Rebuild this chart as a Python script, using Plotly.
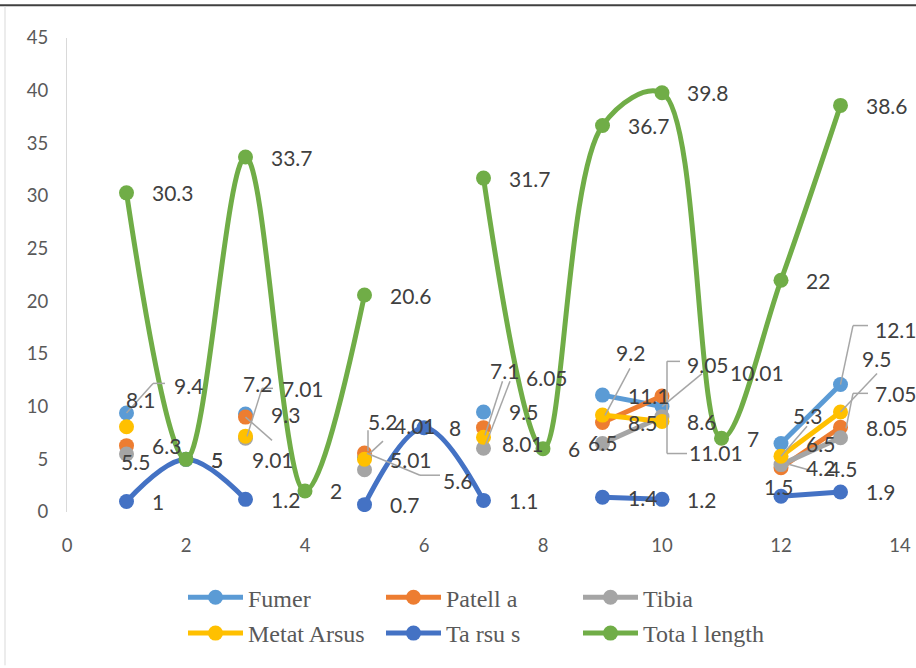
import plotly.graph_objects as go

# ---- data -------------------------------------------------------------
x_vals = list(range(1, 14))
series_names = ["Fumer", "Patell a", "Tibia", "Metat Arsus", "Ta rsu s", "Tota l length"]
fumer = [9.4, None, 9.3, None, 5.2, None, 9.5, None, 11.1, 10.01, None, 6.5, 12.1]
patella = [6.3, None, 9.01, None, 5.6, None, 8.01, None, 8.5, 11.01, None, 4.2, 8.05]
tibia = [5.5, None, 7.01, None, 4.01, None, 6.05, None, 6.5, 9.05, None, 4.5, 7.05]
metatarsus = [8.1, None, 7.2, None, 5.01, None, 7.1, None, 9.2, 8.6, None, 5.3, 9.5]
tarsus = [1, 5, 1.2, None, 0.7, 8, 1.1, None, 1.4, 1.2, None, 1.5, 1.9]
total_length = [30.3, 5, 33.7, 2, 20.6, None, 31.7, 6, 36.7, 39.8, 7, 22, 38.6]

x_ticks = [0, 2, 4, 6, 8, 10, 12, 14]
y_ticks = [0, 5, 10, 15, 20, 25, 30, 35, 40, 45]

series_values = [fumer, patella, tibia, metatarsus, tarsus, total_length]
colors = ["#5B9BD5", "#ED7D31", "#A5A5A5", "#FFC000", "#4472C4", "#70AD47"]

# ---- label placement (pixel offsets from the point, +dy = down) -------
# points not listed here get the default "right of point" label
label_moves = {
    "Fumer": {1: (61.5, -27.6), 5: (17.5, -35.5), 10: (95, -34), 13: (55.5, -55.5)},
    "Patell a": {3: (27, 42.8), 5: (92.5, 27.2), 7: (39, 15.7), 10: (54, 56.5)},
    "Tibia": {1: (8.5, 7.7), 3: (57.5, -49.8), 5: (50, -44.1), 7: (63.5, -71),
              9: (0, -1), 10: (46, -51.8), 12: (61, 4), 13: (55.5, -44)},
    "Metat Arsus": {1: (13.5, -27.3), 3: (12, -52.3), 7: (20.5, -67), 9: (27.5, -62.2),
                    12: (26.5, -41), 13: (35.5, -53)},
    "Ta rsu s": {12: (-3, -9.6)},
}

# leader lines: polyline vertices as pixel offsets from the point (+dy = down)
leaders = {
    ("Fumer", 1): [(38.5, -29.6), (26.5, -29.6), (0, 0)],
    ("Fumer", 5): [(3.5, -27), (3.5, -6)],
    ("Fumer", 10): [(0, 0), (40, -33)],
    ("Fumer", 13): [(27.5, -59), (12.5, -59), (0, 0)],
    ("Patell a", 3): [(0, 0), (26.5, 23.3)],
    ("Patell a", 5): [(75.5, 22.2), (55.5, 22.2), (2.5, 0.2)],
    ("Patell a", 10): [(25, 57.5), (5, 57.5), (5, 0)],
    ("Patell a", 12): [(4, -4.6), (29, 2.4)],
    ("Tibia", 3): [(27.5, -49.8), (16.5, -49.8), (1.5, -1.8)],
    ("Tibia", 5): [(18.5, -28.6), (5.5, -16.6)],
    ("Tibia", 7): [(26.5, -67), (1.5, -2)],
    ("Tibia", 10): [(18, -55.3), (5, -55.3), (5, 0)],
    ("Tibia", 13): [(27.5, -44.4), (12.5, -44.4), (5.5, -9.4)],
    ("Metat Arsus", 7): [(19, -56), (1.5, -2)],
    ("Metat Arsus", 9): [(27.5, -46.7), (2.5, 0.3)],
    ("Metat Arsus", 12): [(0, 0), (26, -30)],
    ("Metat Arsus", 13): [(36.5, -38.5), (0, 0)],
}

# legend entry positions (pixels in the 916x668 page)
legend_pos = [(183, 600), (381, 600), (578, 600), (183, 636), (381, 636), (578, 636)]

# ---- geometry --------------------------------------------------------
W, H = 916, 668
M_L, M_R, M_T, M_B = 67, 16, 38, 154
PW, PH = W - M_L - M_R, H - M_T - M_B


def paper_x(px):
    return (px - M_L) / PW


def paper_y(py):
    return (H - M_B - py) / PH


LABEL_FONT = dict(family="Lato, 'Open Sans', sans-serif", size=21, color="#404040")
TICK_FONT = dict(family="Lato, 'Open Sans', sans-serif", size=18.5, color="#595959")
LEGEND_FONT = dict(family="'Liberation Serif', 'DejaVu Serif', serif", size=24, color="#595959")

fig = go.Figure()

for i, (name, vals, col) in enumerate(zip(series_names, series_values, colors)):
    leg = "legend" if i == 0 else f"legend{i + 1}"
    fig.add_trace(go.Scatter(
        x=x_vals, y=vals, name=name, mode="lines+markers",
        line=dict(color=col, width=5, shape="spline", smoothing=1),
        marker=dict(color=col, size=15),
        connectgaps=False, legend=leg, hoverinfo="x+y+name",
    ))

annotations = []
shapes = []
for name, vals in zip(series_names, series_values):
    moves = label_moves.get(name, {})
    for xv, yv in zip(x_vals, vals):
        if yv is None:
            continue
        txt = f"{yv:g}"
        if xv in moves:
            dx, dy = moves[xv]
            annotations.append(dict(x=xv, y=yv, xref="x", yref="y", text=txt,
                                    showarrow=False, xanchor="center", yanchor="middle",
                                    xshift=dx, yshift=-dy, font=LABEL_FONT))
        else:
            annotations.append(dict(x=xv, y=yv, xref="x", yref="y", text=txt,
                                    showarrow=False, xanchor="left", yanchor="middle",
                                    xshift=23, yshift=0, font=LABEL_FONT))
        pts = leaders.get((name, xv))
        if pts:
            for (ax0, ay0), (ax1, ay1) in zip(pts[:-1], pts[1:]):
                shapes.append(dict(type="line", xref="x", yref="y",
                                   xsizemode="pixel", ysizemode="pixel",
                                   xanchor=xv, yanchor=yv,
                                   x0=ax0, x1=ax1, y0=-ay0, y1=-ay1,
                                   line=dict(color="#A6A6A6", width=1.5),
                                   layer="above"))

# chart frame edges
shapes.append(dict(type="line", xref="paper", yref="paper",
                   x0=paper_x(0), x1=paper_x(W), y0=paper_y(5), y1=paper_y(5),
                   line=dict(color="#404040", width=2)))
shapes.append(dict(type="line", xref="paper", yref="paper",
                   x0=paper_x(5), x1=paper_x(5), y0=paper_y(6), y1=paper_y(H),
                   line=dict(color="#D9D9D9", width=1)))

layout_legends = {}
for i, (lx, ly) in enumerate(legend_pos):
    key = "legend" if i == 0 else f"legend{i + 1}"
    layout_legends[key] = dict(
        x=paper_x(lx), y=paper_y(ly), xanchor="left", yanchor="middle",
        orientation="h", font=LEGEND_FONT, bgcolor="rgba(0,0,0,0)",
        borderwidth=0, itemwidth=55, tracegroupgap=0,
    )

fig.update_layout(
    width=W, height=H, autosize=False,
    margin=dict(l=M_L, r=M_R, t=M_T, b=M_B, pad=0),
    paper_bgcolor="white", plot_bgcolor="white",
    showlegend=True,
    annotations=annotations, shapes=shapes,
    xaxis=dict(range=[0, 14], tickvals=x_ticks, showgrid=False, zeroline=False,
               showline=False, ticks="", tickfont=TICK_FONT, ticklabelstandoff=20,
               automargin=False),
    yaxis=dict(range=[0, 45], tickvals=y_ticks, showgrid=False, zeroline=False,
               showline=True, linecolor="#D9D9D9", linewidth=1, ticks="",
               tickfont=TICK_FONT, ticklabelstandoff=14, automargin=False),
    **layout_legends,
)

fig.write_html("out.html")
